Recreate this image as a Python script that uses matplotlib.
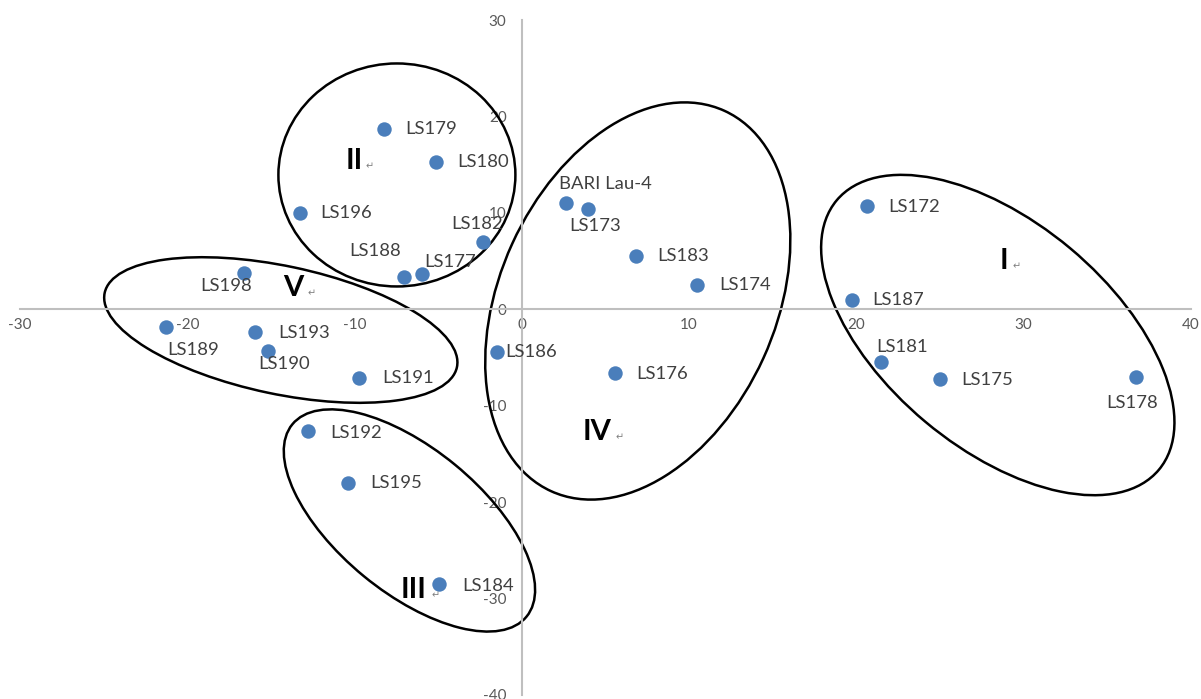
import matplotlib
matplotlib.use('Agg')
import matplotlib.pyplot as plt
from matplotlib.patches import Ellipse
from matplotlib.transforms import ScaledTranslation

plt.rcParams['font.family'] = ['Lato', 'DejaVu Sans']
plt.rcParams['axes.unicode_minus'] = False

# PCA scores of the lines
names = ['LS179', 'LS180', 'LS196', 'LS182', 'LS188', 'LS177', 'LS198', 'LS189',
         'LS193', 'LS190', 'LS191', 'LS186', 'LS192', 'LS195', 'LS184',
         'BARI Lau-4', 'LS173', 'LS183', 'LS174', 'LS176',
         'LS172', 'LS187', 'LS181', 'LS175', 'LS178']
xs = [-8.25, -5.14, -13.27, -2.33, -7.05, -5.98, -16.62, -21.28,
      -15.96, -15.18, -9.74, -1.49, -12.79, -10.40, -4.96,
      2.63, 3.94, 6.81, 10.46, 5.56,
      20.62, 19.72, 21.46, 24.99, 36.70]
ys = [18.7, 15.3, 9.99, 6.98, 3.35, 3.66, 3.76, -1.84,
      -2.35, -4.32, -7.12, -4.43, -12.62, -18.01, -28.49,
      11.02, 10.40, 5.53, 2.52, -6.61,
      10.71, 0.96, -5.47, -7.23, -7.02]
# label offset (px) and alignment
lab_dx = [21, 21, 20, -6, -29, 28, -18, 27,
          23, 16, 23, 8, 22, 22, 23,
          40, 7, 21, 22, 21,
          21, 21, 21, 21, -4]
lab_dy = [0, 0, 0, 18, 26, 12, -13, -23,
          -1, -13, 0, 0, -2, 0, -2,
          19, -17, 0, 0, -1,
          -1, 0, 15, -1, -26]
lab_ha = ['left', 'left', 'left', 'center', 'center', 'center', 'center', 'center',
          'left', 'center', 'left', 'left', 'left', 'left', 'left',
          'center', 'center', 'left', 'left', 'left',
          'left', 'left', 'center', 'left', 'center']

# cluster groups
groups = ['I', 'II', 'III', 'IV', 'V']
grp_x = [28.81, -10.04, -6.46, 4.48, -13.69]
grp_y = [5.01, 15.38, -29.1, -12.72, 2.21]
# ellipse centre (data) and size in pixels
ell_cx = [28.45, -7.47, -6.72, 6.93, -14.41]
ell_cy = [-2.67, 13.93, -21.9, 0.86, -2.15]
ell_w = [420, 237, 303, 418, 360]
ell_h = [226, 223, 144, 276, 128]
ell_ang = [-39.9, 0, -39.4, 65.5, -11.9]
mark_dx = [13, 16, 22, 23, 19]

fig = plt.figure(figsize=(12.01, 6.99), dpi=100)
ax = fig.add_axes([20/1201, 4/699, 1171/1201, 675/699])
ax.set_xlim(-30, 40)
ax.set_ylim(-40, 30)

ax.spines['left'].set_position(('data', 0))
ax.spines['bottom'].set_position(('data', 0))
ax.spines['top'].set_visible(False)
ax.spines['right'].set_visible(False)
for s in ['left', 'bottom']:
    ax.spines[s].set_color('#bfbfbf')
    ax.spines[s].set_linewidth(1.5)
ax.set_xticks(range(-30, 41, 10))
ax.set_yticks(range(-40, 31, 10))
ax.tick_params(axis='x', length=0, pad=6, labelsize=11, labelcolor='#595959')
ax.tick_params(axis='y', length=0, pad=11, labelsize=11, labelcolor='#595959')

ax.scatter(xs, ys, s=108, color='#4a7ebb', zorder=3, linewidths=0)

for n, x, y, dx, dy, ha in zip(names, xs, ys, lab_dx, lab_dy, lab_ha):
    ax.annotate(n, (x, y), xytext=(dx*0.72, dy*0.72), textcoords='offset points',
                ha=ha, va='center', fontsize=13.3, color='#404040', zorder=4)

for cx, cy, w, h, a in zip(ell_cx, ell_cy, ell_w, ell_h, ell_ang):
    e = Ellipse((0, 0), w, h, angle=a, fill=False, edgecolor='black', linewidth=1.8,
                transform=ScaledTranslation(cx, cy, ax.transData), zorder=2)
    ax.add_patch(e)

for g, x, y, mdx in zip(groups, grp_x, grp_y, mark_dx):
    ax.text(x, y, g, ha='center', va='center', fontsize=21, fontweight='bold', color='black')
    ax.annotate('\u21b5', (x, y), xytext=(mdx*0.72, -5*0.72), textcoords='offset points',
                ha='center', va='center', fontsize=7, color='#808080',
                family=['DejaVu Sans'])

fig.savefig('out.png', dpi=100)
